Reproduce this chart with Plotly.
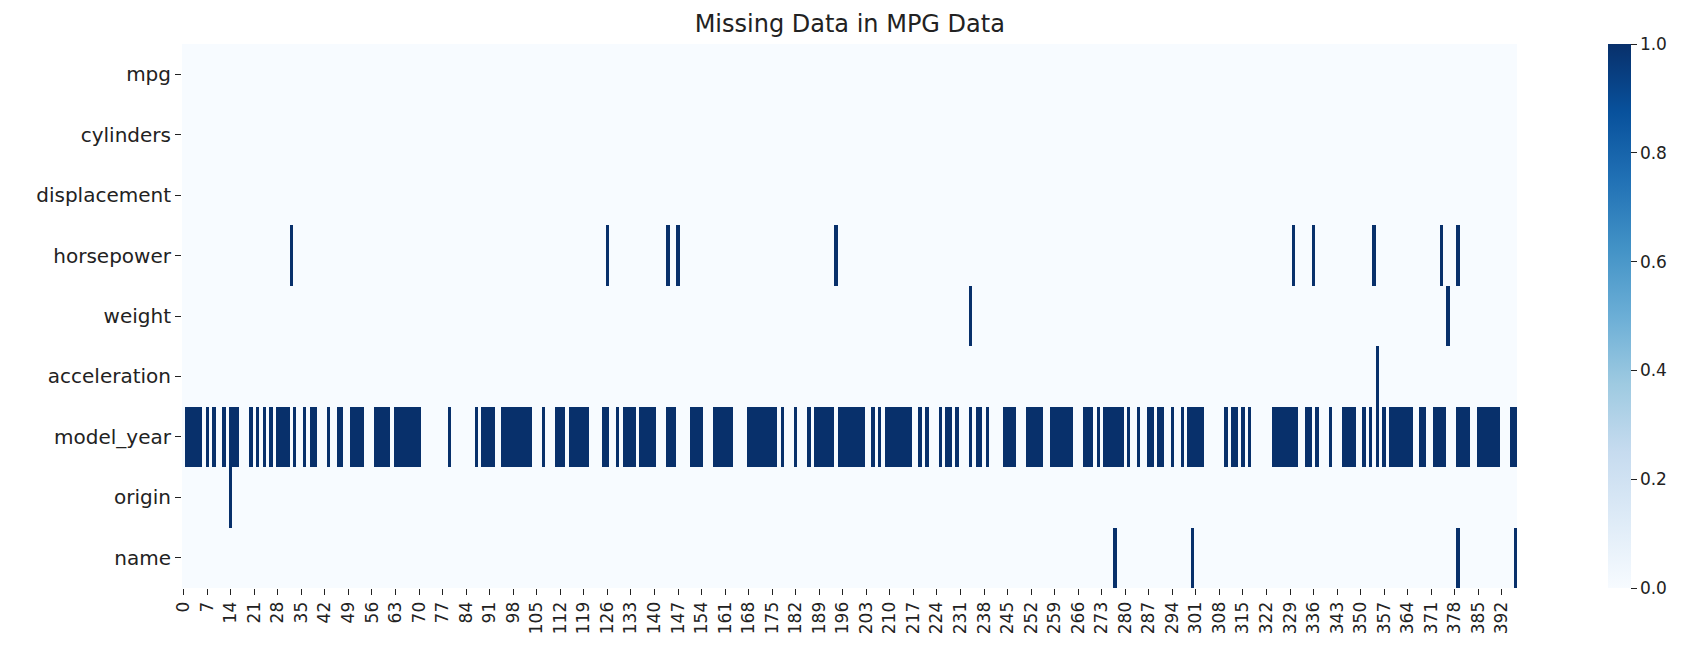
import numpy as np
import plotly.graph_objects as go

# ── DATA ──────────────────────────────────────────────────────────
columns = ["mpg", "cylinders", "displacement", "horsepower", "weight",
           "acceleration", "model_year", "origin", "name"]
n_rows = 397

# single missing rows per column
missing_mpg          = []
missing_cylinders    = []
missing_displacement = []
missing_horsepower   = [32, 126, 144, 147, 194, 330, 336, 354, 374, 379]
missing_weight       = [234, 376]
missing_acceleration = [355]
missing_origin       = [14]
missing_name         = [277, 300, 379, 396]

# model_year has long stretches missing -> (first, last) row runs
missing_model_year_runs = [
    (1, 5), (7, 7), (9, 9), (12, 12), (14, 16), (20, 20), (22, 22), (24, 24),
    (26, 26), (28, 31), (33, 33), (36, 36), (38, 39), (43, 43), (46, 47),
    (50, 53), (57, 61), (63, 70), (79, 79), (87, 87), (89, 92), (95, 103),
    (107, 107), (111, 113), (115, 120), (125, 126), (129, 129), (131, 134),
    (136, 140), (144, 146), (151, 154), (158, 163), (168, 176), (178, 178),
    (182, 182), (186, 186), (188, 193), (195, 202), (205, 205), (207, 207),
    (209, 216), (219, 219), (221, 221), (225, 225), (227, 228), (230, 230),
    (234, 234), (236, 237), (239, 239), (244, 247), (251, 255), (258, 264),
    (268, 270), (272, 272), (274, 279), (281, 281), (284, 284), (287, 288),
    (290, 291), (294, 294), (297, 297), (299, 303), (310, 310), (312, 313),
    (315, 315), (317, 317), (324, 331), (334, 335), (337, 337), (341, 341),
    (345, 348), (351, 351), (353, 353), (355, 355), (357, 357), (359, 365),
    (368, 369), (372, 375), (379, 382), (385, 391), (395, 396),
]

# matplotlib "Blues"
blues = ["#f7fbff", "#deebf7", "#c6dbef", "#9ecae1", "#6baed6",
         "#4292c6", "#2171b5", "#08519c", "#08306b"]

# ── BUILD 0/1 MATRIX ──────────────────────────────────────────────
z = np.zeros((len(columns), n_rows))
singles = [missing_mpg, missing_cylinders, missing_displacement,
           missing_horsepower, missing_weight, missing_acceleration,
           None, missing_origin, missing_name]
for r, idx in enumerate(singles):
    if idx:
        z[r, idx] = 1
my = columns.index("model_year")
for a, b in missing_model_year_runs:
    z[my, a:b + 1] = 1

FONT = "DejaVu Sans"
TXT = "#222222"
cscale = [[i / (len(blues) - 1), c] for i, c in enumerate(blues)]
xticks = list(range(0, n_rows, 7))

fig = go.Figure(go.Heatmap(
    z=z, x=list(range(n_rows)), y=columns,
    colorscale=cscale, zmin=0, zmax=1,
    colorbar=dict(
        x=1.068, xanchor="left", xpad=0, ypad=0,
        y=0.5, yanchor="middle", len=1, thickness=23,
        outlinewidth=0, ticks="outside", ticklen=6, tickcolor=TXT,
        tickvals=[0, 0.2, 0.4, 0.6, 0.8, 1.0],
        ticktext=["0.0", "0.2", "0.4", "0.6", "0.8", "1.0"],
        tickfont=dict(family=FONT, size=17, color=TXT)),
    hovertemplate="row %{x}<br>%{y}: %{z}<extra></extra>"))

fig.update_xaxes(
    range=[-0.5, n_rows - 0.5], tickvals=xticks,
    ticktext=[str(t) for t in xticks], tickangle=-90,
    ticks="outside", ticklen=6, tickcolor=TXT,
    showgrid=False, zeroline=False, showline=False,
    tickfont=dict(family=FONT, size=17, color=TXT))
fig.update_yaxes(
    autorange="reversed", ticks="outside", ticklen=6, tickcolor=TXT,
    showgrid=False, zeroline=False, showline=False,
    tickfont=dict(family=FONT, size=20, color=TXT))

fig.update_layout(
    width=1704, height=648,
    margin=dict(l=174, r=195, t=36, b=68),
    title=dict(text="Missing Data in MPG Data", x=0.494, xanchor="center",
               y=1 - 16 / 648, yanchor="middle",
               font=dict(family=FONT, size=24, color=TXT)),
    paper_bgcolor="white", plot_bgcolor="white",
    font=dict(family=FONT, color=TXT))

fig.write_html("out.html")
